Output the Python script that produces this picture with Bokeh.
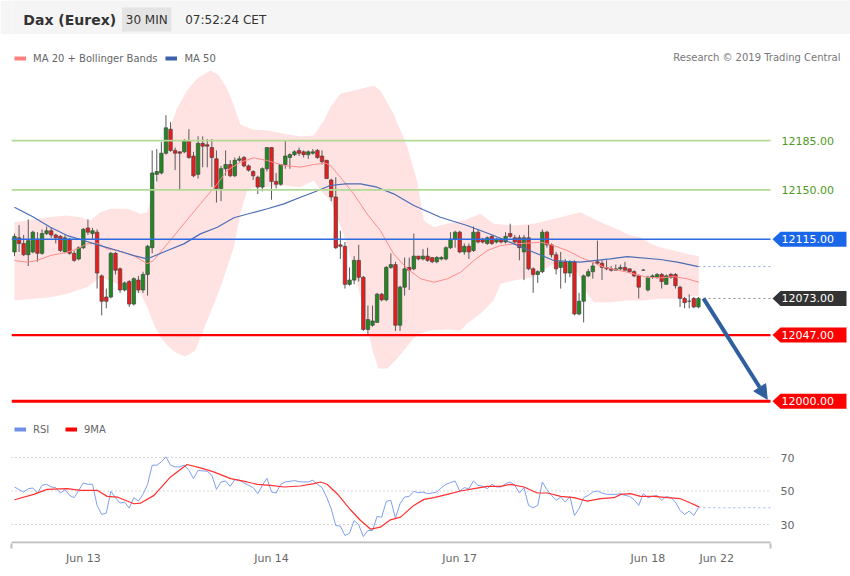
from bokeh.plotting import figure
from bokeh.models import (Range1d, Label, Legend, LegendItem, LinearAxis, FixedTicker,
                          Arrow, NormalHead, ColumnDataSource)
from bokeh.layouts import column
from bokeh.core.properties import value
from bokeh.embed import file_html
from bokeh.resources import INLINE

FONT = "DejaVu Sans"

# ------------------------------------------------------------------ data
opens = [12106,12116,12112,12104,12106,12115,12105,12119,12121,12118,
         12117,12106,12115,12105,12101,12109,12123,12119,12120,12089,
         12074,12074,12105,12094,12079,12085,12069,12086,12079,12090,
         12109,12161,12162,12176,12193,12178,12177,12177,12185,12174,
         12161,12183,12182,12180,12172,12151,12165,12168,12160,12171,
         12173,12167,12163,12159,12152,12165,12180,12156,12154,12168,
         12173,12175,12178,12177,12175,12176,12178,12174,12171,12157,
         12145,12111,12110,12083,12086,12100,12088,12051,12054,12056,
         12076,12072,12095,12097,12054,12081,12095,12094,12103,12101,
         12103,12102,12099,12101,12101,12109,12115,12120,12106,12110,
         12107,12120,12115,12112,12117,12113,12115,12113,12119,12116,
         12116,12106,12116,12094,12090,12092,12120,12111,12104,12095,
         12099,12091,12099,12062,12071,12089,12092,12099,12098,12095,
         12094,12093,12094,12095,12094,12092,12089,12093,12079,12088,
         12088,12090,12083,12090,12090,12081,12073,12071,12073,12067]
highs = [12119,12125,12118,12129,12121,12120,12122,12124,12123,12119,
         12118,12118,12116,12107,12110,12123,12129,12123,12122,12090,
         12080,12106,12106,12095,12085,12086,12088,12089,12092,12111,
         12178,12179,12184,12203,12198,12180,12177,12186,12193,12177,
         12188,12188,12186,12186,12178,12167,12178,12171,12173,12174,
         12174,12168,12164,12160,12166,12180,12180,12162,12168,12185,
         12176,12178,12180,12178,12178,12179,12179,12178,12171,12158,
         12159,12121,12113,12095,12103,12111,12089,12068,12068,12077,
         12077,12096,12105,12099,12082,12102,12102,12119,12103,12108,
         12109,12102,12103,12103,12110,12120,12121,12121,12112,12112,
         12124,12122,12116,12117,12118,12116,12116,12120,12126,12118,
         12118,12118,12125,12095,12093,12122,12121,12112,12106,12106,
         12101,12100,12100,12077,12090,12094,12099,12114,12100,12100,
         12096,12097,12097,12099,12094,12093,12090,12094,12089,12090,
         12091,12091,12090,12091,12091,12082,12074,12076,12074,12074]
lows = [12103,12106,12103,12096,12105,12099,12104,12118,12116,12112,
        12106,12105,12104,12099,12100,12108,12118,12115,12080,12061,
        12066,12073,12090,12077,12078,12067,12068,12077,12077,12075,
        12105,12156,12161,12175,12177,12164,12150,12176,12172,12159,
        12158,12166,12166,12152,12141,12142,12160,12159,12159,12170,
        12166,12163,12157,12147,12149,12163,12143,12151,12153,12165,
        12165,12174,12174,12173,12172,12175,12172,12168,12158,12142,
        12108,12101,12080,12082,12083,12085,12050,12047,12053,12056,
        12071,12071,12094,12050,12050,12075,12079,12093,12100,12100,
        12099,12098,12098,12100,12100,12108,12109,12105,12104,12101,
        12106,12112,12112,12111,12111,12112,12112,12112,12116,12112,
        12100,12086,12093,12077,12084,12091,12109,12102,12090,12080,
        12084,12088,12061,12061,12056,12088,12087,12097,12086,12093,
        12092,12093,12093,12093,12091,12088,12073,12093,12078,12087,
        12087,12080,12083,12087,12080,12067,12066,12066,12066,12066]
closes = [12117,12112,12104,12114,12120,12105,12119,12121,12118,12116,
          12107,12116,12105,12100,12109,12122,12120,12121,12091,12071,
          12071,12105,12093,12079,12084,12069,12087,12079,12090,12110,
          12162,12163,12176,12194,12178,12176,12176,12185,12173,12160,
          12183,12181,12181,12173,12151,12165,12168,12160,12171,12172,
          12167,12164,12160,12152,12165,12180,12156,12154,12168,12174,
          12175,12177,12176,12175,12177,12177,12173,12170,12158,12145,
          12109,12110,12083,12086,12100,12088,12051,12058,12057,12076,
          12072,12095,12097,12054,12081,12094,12093,12103,12101,12103,
          12100,12099,12102,12102,12109,12115,12120,12106,12110,12106,
          12120,12113,12113,12116,12112,12115,12113,12117,12117,12113,
          12109,12116,12094,12090,12092,12120,12111,12104,12094,12099,
          12091,12099,12062,12071,12089,12092,12096,12098,12095,12094,
          12093,12094,12095,12093,12092,12089,12081,12093,12088,12089,
          12090,12085,12089,12088,12082,12073,12070,12071,12067,12073]

# Bollinger bands (20), by bar index
bb_upper_idx = [0, 7.1, 11.5, 14.4, 16.6, 18.7, 20.9, 24.6, 27.5, 28.9, 30.3, 31.8, 33.3, 35.4,
                37.6, 39.8, 42.7, 44.4, 46.3, 47.8, 49.2, 52.1, 55.1, 58.7, 62.3, 65.2, 67.4,
                68.8, 71, 73.9, 76.8, 78.3, 79.7, 82.6, 85.6, 87.7, 89.2, 91.4, 94.3, 97.9,
                101.5, 104.4, 108.8, 113.1, 116.1, 120.4, 123.3, 125.5, 128.4, 132, 134.2,
                136.4, 138.6, 140.7, 143.6, 146.6, 149.1]
bb_upper = [12127.1, 12130.6, 12131.8, 12130.6, 12128.3, 12134.1, 12136.6, 12136.6, 12133,
            12134.1, 12149.5, 12167.0, 12188.5, 12207.7, 12220.5, 12229, 12234.6, 12231.8,
            12221.9, 12209.8, 12196.3, 12192.6, 12192.1, 12189.8, 12187.8, 12188.5, 12199.2,
            12208.6, 12218.1, 12220.5, 12222.8, 12224, 12220.5, 12203.9, 12180.2, 12156.6,
            12128.3, 12123.5, 12125.9, 12128.3, 12133, 12125.9, 12124.7, 12125.9, 12128.3,
            12131.8, 12134.1, 12130.6, 12125.9, 12121.2, 12117.6, 12116.4, 12111.7, 12109.3,
            12107, 12104.6, 12102.9]
bb_lower_idx = [0, 4.2, 7.8, 11.5, 15.8, 18.7, 21.6, 24.6, 27.5, 28.9, 30.3, 31.8, 33.3, 35.1,
                37.3, 39.4, 42, 44.9, 47.8, 49.2, 50.7, 52.1, 55.1, 58.7, 62.3, 65.2, 66.7,
                68.8, 71, 72.5, 73.9, 75.4, 76.8, 78, 79.3, 81.2, 83, 85.2, 86.9, 88.5, 90.6,
                94.3, 97.2, 98.6, 101.5, 104.4, 105.9, 108.8, 113.1, 116.1, 120.4, 121.9,
                124.8, 126.2, 129.8, 133.5, 137.1, 140.7, 143.6, 146.6, 149.1]
bb_lower = [12071.5, 12072.7, 12073.9, 12076.3, 12081, 12088.1, 12084.5, 12079.8, 12076.3,
            12066.8, 12055, 12045.5, 12039.6, 12034.6, 12031.8, 12036.1, 12057.3, 12081,
            12109.3, 12133, 12149.5, 12151.9, 12151.9, 12153.1, 12151.9, 12156.6, 12149.5,
            12142.4, 12124.7, 12110.5, 12092.8, 12073.7, 12053.8, 12036.1, 12023.3, 12023.3,
            12029, 12037.5, 12044.6, 12048.1, 12050.2, 12051, 12050.2, 12055, 12062.1,
            12071.5, 12083.4, 12085.7, 12088.1, 12095.1, 12101.3, 12096.3, 12076.3, 12070.3,
            12070.3, 12071.5, 12071.5, 12072.7, 12072.7, 12073.9, 12075.1]
ma20_idx = [0, 2.8, 4.9, 7.8, 11.5, 13.7, 15.8, 18, 20.2, 22.4, 26, 28.9, 30.3, 33.3, 36.9,
            40.5, 44.2, 46.3, 49.2, 52.1, 55.1, 58.7, 62.3, 65.2, 67.8, 68.8, 71, 73.9, 76.8,
            79.7, 82.6, 85.6, 88.5, 91.4, 94.3, 97.2, 100.1, 103, 105.9, 108.8, 111.7, 114.6,
            117.5, 120.4, 123.3, 128.4, 133.5, 137.8, 140.7, 143.6, 146.6, 149.1]
ma20 = [12099.9, 12098.7, 12099.9, 12103.4, 12105.8, 12108.2, 12111.7, 12112.2, 12108.2,
        12107, 12103.4, 12097.6, 12099.9, 12111.7, 12125.9, 12140.1, 12154.3, 12163.7,
        12169.6, 12172.7, 12170.8, 12167.3, 12166.1, 12168, 12168.9, 12167.3, 12159,
        12147.2, 12133, 12121.2, 12104.6, 12094, 12086.9, 12084.5, 12086.9, 12091.6,
        12099.9, 12107, 12110.5, 12111.7, 12112.2, 12112.9, 12110.5, 12107, 12102.2,
        12095.2, 12091.6, 12088, 12087.6, 12088.5, 12086.9, 12084.5]
ma50_idx = [0, 4.2, 7.8, 11.5, 15.1, 18.7, 22.4, 26, 28.9, 30.3, 33.3, 36.9, 40.5, 44.2, 47.8,
            51.4, 55.1, 58.7, 62.3, 65.2, 68.8, 72.1, 75.4, 79, 82.6, 87, 92.8, 98.6, 104.4,
            108.8, 113.1, 117.5, 123.3, 129.8, 133.5, 140.7, 144.4, 149]
ma50 = [12137.7, 12130.6, 12123.5, 12117.6, 12114.1, 12110.5, 12107, 12103.4, 12101.1,
        12102.9, 12107, 12111.7, 12118.8, 12123.5, 12130.2, 12133.4, 12136.6, 12140.1,
        12144.8, 12148.3, 12153.1, 12154.3, 12154.3, 12151.9, 12147.2, 12138.9, 12130.6,
        12124.7, 12117.6, 12111.7, 12105.8, 12099.9, 12098.8, 12101.1, 12102.7, 12100.6,
        12098.7, 12095.6]

rsi_vals = [52.4, 50.8, 49.4, 51.4, 51.8, 48.8, 53.4, 54.0, 52.4, 52.0,
            48.8, 50.8, 47.4, 46.0, 50.4, 54.8, 54.0, 54.0, 41.4, 36.0,
            36.8, 49.8, 46.0, 42.8, 43.4, 39.8, 46.0, 44.0, 48.0, 54.0,
            65.4, 65.4, 67.4, 70.4, 65.4, 64.4, 64.4, 65.4, 62.4, 57.4,
            62.4, 62.0, 61.8, 59.4, 51.0, 55.4, 56.0, 52.8, 56.8, 56.4,
            54.8, 53.4, 52.0, 48.4, 53.4, 57.6, 49.4, 48.8, 54.0, 55.4,
            55.8, 56.2, 55.6, 55.4, 55.4, 56.4, 54.0, 52.0, 46.4, 39.4,
            29.4, 29.0, 23.4, 24.8, 32.4, 29.8, 22.8, 26.4, 26.4, 34.8,
            34.4, 43.8, 44.4, 33.8, 42.4, 46.4, 46.8, 49.8, 49.0, 49.4,
            48.4, 48.8, 49.4, 52.0, 54.0, 55.0, 56.0, 50.0, 52.0, 51.4,
            56.0, 53.4, 52.8, 51.4, 54.0, 52.4, 52.4, 54.4, 55.4, 53.4,
            48.8, 52.0, 41.4, 40.0, 41.4, 55.4, 50.8, 47.4, 44.4, 46.4,
            43.4, 46.8, 35.4, 39.4, 46.0, 47.4, 49.4, 50.0, 48.8, 48.0,
            48.0, 48.0, 48.4, 47.4, 46.8, 44.8, 41.4, 48.4, 46.0, 46.8,
            47.4, 44.4, 46.8, 46.0, 43.4, 38.4, 36.0, 38.0, 35.4, 40.0]
ma9_idx = [0, 4.2, 7.1, 11.5, 14.4, 18.0, 20.2, 22.4, 26.0, 27.5, 30.4, 34.0, 37.6, 40.5, 43.4,
           47.1, 50.7, 52.9, 55.8, 58.7, 62.3, 65.2, 66.7, 68.1, 70.3, 73.2, 75.4, 77.6, 79.7,
           81.9, 84.1, 87.0, 89.2, 91.4, 94.3, 97.2, 100.1, 103.0, 105.9, 108.1, 111.0, 113.9,
           116.1, 119.0, 121.9, 124.8, 127.7, 130.6, 132.1, 134.2, 136.4, 139.3, 142.2, 145.1,
           147.3, 149.2]
ma9 = [44.8, 48.0, 51.0, 51.4, 50.4, 50.4, 46.8, 46.4, 42.4, 42.8, 47.4, 58.4, 65.8, 63.8, 61.4,
       57.4, 55.4, 54.0, 53.4, 52.4, 53.0, 54.4, 55.4, 54.0, 48.4, 38.8, 32.4, 27.2, 28.4, 32.8,
       34.4, 41.4, 45.0, 46.0, 48.0, 50.0, 51.4, 52.8, 52.8, 54.0, 52.4, 48.8, 48.8, 46.8, 46.0,
       44.0, 45.4, 46.0, 48.0, 48.4, 46.8, 46.8, 46.0, 45.4, 42.8, 40.4]

day_ticks = [15, 56, 97, 138, 153]
day_labels = ["Jun 13", "Jun 14", "Jun 17", "Jun 18", "Jun 22"]
rsi_levels = [30, 50, 70]

resistances = [12185, 12150]
pivot = 12115
last_price = 12073
supports = [12047, 12000]
target = 12000
arrow_x0, arrow_x1 = 150.1, 164.0

# ------------------------------------------------------------------ layout constants
W = 850
LEFT = 11
BAR_PX = 4.59
X0 = -0.65
PLOT_PX = 759                       # width of the drawing area (to the level labels)
X_END = X0 + PLOT_PX / BAR_PX
X_MAX = X0 + (W - LEFT) / BAR_PX
HEAD_H = 34
MAIN_H = 378
P_LO, P_HI = 11992.1, 12260.2
PX_PER_PT = MAIN_H / (P_HI - P_LO)
RSI_H = 164
RSI_BOTTOM = 33
RSI_FRAME = RSI_H - RSI_BOTTOM
R_LO, R_HI = 18.66, 96.87
PX_PER_R = RSI_FRAME / (R_HI - R_LO)

# ------------------------------------------------------------------ header
header = figure(width=W, height=HEAD_H, x_range=Range1d(0, W), y_range=Range1d(0, HEAD_H),
                toolbar_location=None, output_backend="svg", x_axis_type=None,
                y_axis_type=None, min_border=0, outline_line_color=None,
                background_fill_color="#f5f5f5", border_fill_color="#f5f5f5")
header.quad(left=[112], right=[162], bottom=[3], top=[27], fill_color="#e4e4e4", line_color=None)
header.add_layout(Label(x=12, y=15, text="Dax (Eurex)", text_font=FONT, text_font_size="14px",
                        text_font_style="bold", text_color="#333333", text_baseline="middle"))
header.add_layout(Label(x=137, y=15, text="30 MIN", text_font=FONT, text_font_size="12px",
                        text_color="#333333", text_baseline="middle", text_align="center"))
header.add_layout(Label(x=176, y=15, text="07:52:24 CET", text_font=FONT, text_font_size="12px",
                        text_color="#333333", text_baseline="middle"))

# ------------------------------------------------------------------ main price chart
main = figure(width=W, height=MAIN_H, x_range=Range1d(X0, X_MAX),
              y_range=Range1d(P_LO, P_HI), toolbar_location=None, output_backend="svg",
              x_axis_type=None, y_axis_type=None, min_border_left=LEFT, min_border_right=0,
              min_border_top=0, min_border_bottom=0, outline_line_color=None)

main.patch(x=bb_upper_idx + bb_lower_idx[::-1], y=bb_upper + bb_lower[::-1],
           fill_color="#ffe3e3", line_color=None)

n = len(opens)
src = ColumnDataSource(dict(
    x=list(range(n)), h=highs, l=lows,
    top=[max(o, c) for o, c in zip(opens, closes)],
    bottom=[min(o, c) for o, c in zip(opens, closes)],
    color=["#1e8a1e" if c >= o else "#ee1b1b" for o, c in zip(opens, closes)]))
main.segment(x0="x", y0="l", x1="x", y1="h", source=src, line_color="#5a5a5a", line_width=1)
main.vbar(x="x", width=0.76, top="top", bottom="bottom", fill_color="color",
          line_color="#454545", line_width=0.7, source=src)

main.line(ma20_idx, ma20, line_color="#ff8a8a", line_width=1)
main.line(ma50_idx, ma50, line_color="#4a6db3", line_width=1.2)

lvl_y = resistances + [pivot] + supports
lvl_col = ["#b2da94", "#b2da94", "#2d6be0", "#ff0000", "#ff0000"]
lvl_w = [1.8, 1.8, 1.6, 2.2, 3.0]
main.segment(x0=[X0] * len(lvl_y), y0=lvl_y, x1=[X_END] * len(lvl_y), y1=lvl_y,
             line_color=lvl_col, line_width=lvl_w)

main.segment(x0=[ma50_idx[-1], arrow_x0], y0=[ma50[-1], last_price],
             x1=[X_END, X_END], y1=[ma50[-1], last_price],
             line_color=["#92a6d8", "#8a8a8a"], line_dash="2 3", line_width=1)

lab_x = X_END + 11 / BAR_PX
main.text(x=[lab_x] * len(resistances), y=resistances,
          text=[f"{v:.2f}" for v in resistances], text_color="#4f9a22",
          text_font=value(FONT), text_font_size="11px", text_baseline="middle")

box_levels = [pivot, last_price] + supports
box_cols = ["#1a66e8", "#333333", "#ff0000", "#ff0000"]
half = 7.5 / PX_PER_PT
tip = X_END + 2 / BAR_PX
bl = X_END + 10 / BAR_PX
br = X_END + 76 / BAR_PX
main.patches(xs=[[tip, bl, br, br, bl] for _ in box_levels],
             ys=[[v, v + half, v + half, v - half, v - half] for v in box_levels],
             fill_color=box_cols, line_color=None)
main.text(x=[lab_x] * len(box_levels), y=box_levels, text=[f"{v:.2f}" for v in box_levels],
          text_color="white", text_font=value(FONT), text_font_size="11px",
          text_baseline="middle")

arrow_col = "#2f5f9e"
main.add_layout(Arrow(end=NormalHead(size=14, fill_color=arrow_col, line_color=arrow_col),
                      x_start=arrow_x0, y_start=last_price, x_end=arrow_x1,
                      y_end=target + 1.5, line_color=arrow_col, line_width=4))

# legend swatches (kept outside the visible range)
off_x = [X0 - 6, X0 - 5]
r_bb = main.line(x=off_x, y=[P_LO - 20] * 2, line_color="#ff7f7f", line_width=4)
r_50 = main.line(x=off_x, y=[P_LO - 20] * 2, line_color="#3d5fa8", line_width=4)
main.add_layout(Legend(items=[LegendItem(label="MA 20 + Bollinger Bands", renderers=[r_bb]),
                              LegendItem(label="MA 50", renderers=[r_50])],
                       orientation="horizontal", location=(3, MAIN_H - 30), padding=0,
                       margin=0, spacing=8, glyph_width=12, glyph_height=12,
                       label_height=12, label_standoff=7, label_text_font=FONT,
                       label_text_font_size="10px", label_text_color="#666666",
                       background_fill_alpha=0, border_line_alpha=0))
main.add_layout(Label(x=W - LEFT - 10, y=MAIN_H - 23, x_units="screen", y_units="screen",
                      text="Research © 2019 Trading Central", text_align="right",
                      text_baseline="middle", text_font=FONT, text_font_size="10px",
                      text_color="#777777"))

# ------------------------------------------------------------------ RSI panel
rsi = figure(width=W, height=RSI_H, x_range=Range1d(X0, X_MAX), y_range=Range1d(R_LO, R_HI),
             toolbar_location=None, output_backend="svg", x_axis_type=None, y_axis_type=None,
             min_border_left=LEFT, min_border_right=0, min_border_top=0,
             min_border_bottom=RSI_BOTTOM, outline_line_color=None)
rsi.segment(x0=[X0] * 3, y0=rsi_levels, x1=[X_END] * 3, y1=rsi_levels,
            line_color="#b0b0b0", line_dash="1 3", line_width=1)
rsi.text(x=[X_END + 10 / BAR_PX] * 3, y=rsi_levels, text=[str(v) for v in rsi_levels],
         text_color="#666666", text_font=value(FONT), text_font_size="11px",
         text_baseline="middle")
rsi.line(list(range(len(rsi_vals))), rsi_vals, line_color="#7f9ff0", line_width=1)
rsi.line(ma9_idx, ma9, line_color="#ff3030", line_width=1.2)
rsi.segment(x0=[len(rsi_vals) - 1], y0=[rsi_vals[-1]], x1=[X_END], y1=[rsi_vals[-1]],
            line_color="#9fb3ee", line_dash="2 3", line_width=1)
# time axis line (only under the drawing area)
axis_y = R_LO + 1 / PX_PER_R
rsi.segment(x0=[X0], y0=[axis_y], x1=[X_END], y1=[axis_y], line_color="#bdbdbd", line_width=2)

xax = LinearAxis(ticker=FixedTicker(ticks=day_ticks, minor_ticks=[X0 + 0.1, X_END - 0.1]),
                 major_label_overrides={t: s for t, s in zip(day_ticks, day_labels)},
                 axis_line_color=None, major_tick_line_color=None,
                 major_tick_out=0, major_tick_in=0, minor_tick_in=0, minor_tick_out=5,
                 minor_tick_line_color="#bdbdbd", minor_tick_line_width=2,
                 major_label_standoff=3, major_label_text_font=FONT,
                 major_label_text_font_size="11px", major_label_text_color="#666666")
rsi.add_layout(xax, "below")

r_rsi = rsi.line(x=off_x, y=[R_LO - 20] * 2, line_color="#6f8fe8", line_width=4)
r_ma9 = rsi.line(x=off_x, y=[R_LO - 20] * 2, line_color="#ff0000", line_width=4)
rsi.add_layout(Legend(items=[LegendItem(label="RSI", renderers=[r_rsi]),
                             LegendItem(label="9MA", renderers=[r_ma9])],
                      orientation="horizontal", location=(3, RSI_FRAME - 23), padding=0,
                      margin=0, spacing=12, glyph_width=12, glyph_height=12,
                      label_height=12, label_standoff=7, label_text_font=FONT,
                      label_text_font_size="10px", label_text_color="#666666",
                      background_fill_alpha=0, border_line_alpha=0))

layout = column(header, main, rsi, spacing=0)
open("out.html", "w").write(file_html(layout, INLINE, title="Dax (Eurex)"))
